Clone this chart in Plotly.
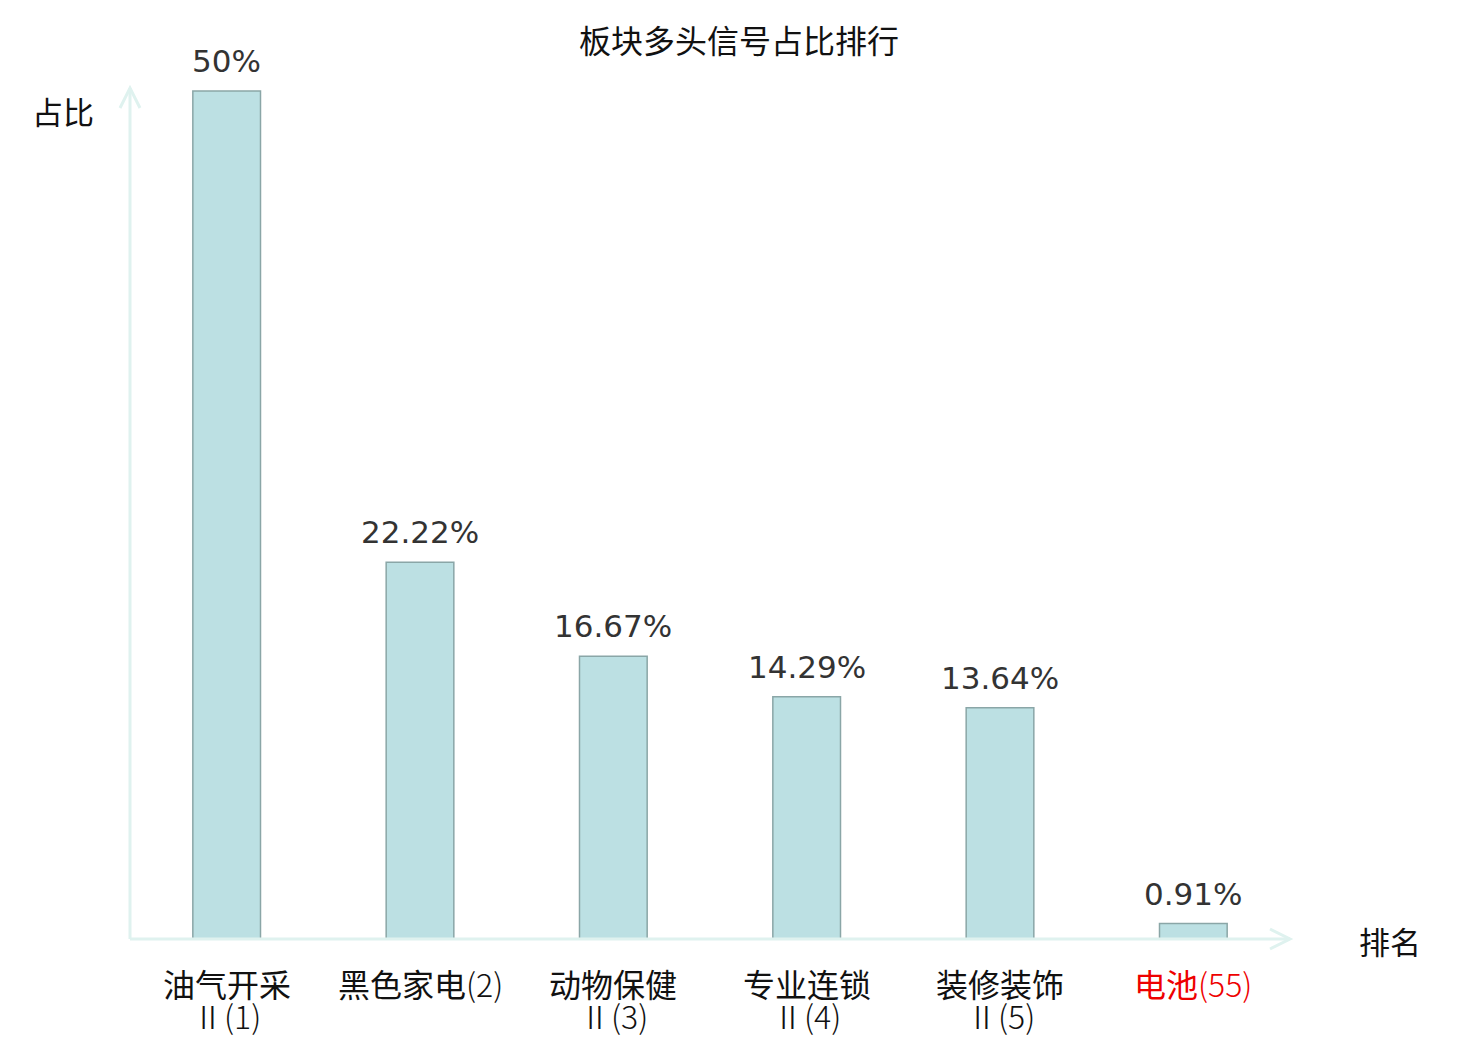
import plotly.graph_objects as go

# data
sectors = ["油气开采Ⅱ(1)", "黑色家电(2)", "动物保健Ⅱ(3)", "专业连锁Ⅱ(4)", "装修装饰Ⅱ(5)", "电池(55)"]
names = ["油气开采", "黑色家电", "动物保健", "专业连锁", "装修装饰", "电池"]
ranks = ["Ⅱ(1)", "(2)", "Ⅱ(3)", "Ⅱ(4)", "Ⅱ(5)", "(55)"]
shares = [50, 22.22, 16.67, 14.29, 13.64, 0.91]
value_labels = ["50%", "22.22%", "16.67%", "14.29%", "13.64%", "0.91%"]
highlight = "电池(55)"

W, H = 1480, 1040
OFF = 8  # page body margin
L, R, T, B = 130 - OFF, 190 + OFF, 88 - OFF, 101 + OFF
pw, ph = W - L - R, H - T - B
axis_col = "#dff2ef"
cjk = "Noto Sans CJK SC"
light = "<span style='font-weight:300'>{}</span>"

fig = go.Figure(go.Bar(x=sectors, y=shares, width=0.35,
                       marker=dict(color="#bce0e3", line=dict(color="#8aa6a7", width=1.5)),
                       hoverinfo="skip"))

# value labels above the bars
for s, v, lab in zip(sectors, shares, value_labels):
    fig.add_annotation(x=s, y=v, text=lab, showarrow=False, yanchor="bottom", yshift=10,
                       font=dict(family="DejaVu Sans", size=31, color="#333333"))

# category labels under the axis (drawn by hand for the tight line spacing)
for s, n, r in zip(sectors, names, ranks):
    col = "#ee0000" if s == highlight else "#111111"
    if r.startswith("Ⅱ"):
        first, second = n, light.format(r)
    else:
        first, second = n + light.format(r), None
    fig.add_annotation(x=s, yref="paper", y=0, yshift=-44, yanchor="middle", text=first,
                       showarrow=False, font=dict(family=cjk, size=32, color=col))
    if second:
        fig.add_annotation(x=s, yref="paper", y=0, yshift=-76, yanchor="middle", text=second,
                           showarrow=False, font=dict(family=cjk, size=32, color=col))

# axis lines with arrow heads (drawn in paper coords)
dx, dy = 20 / pw, 20 / ph
line = dict(color=axis_col, width=3)
fig.add_shape(type="line", xref="paper", yref="paper", x0=0, y0=0, x1=1, y1=0, line=line)
fig.add_shape(type="line", xref="paper", yref="paper", x0=0, y0=0, x1=0, y1=1, line=line)
fig.add_shape(type="path", xref="paper", yref="paper", line=line,
              path=f"M {1-dx} {10/ph} L 1 0 L {1-dx} {-10/ph}")
fig.add_shape(type="path", xref="paper", yref="paper", line=line,
              path=f"M {-10/pw} {1-dy} L 0 1 L {10/pw} {1-dy}")

# axis names
fig.add_annotation(xref="paper", yref="paper", x=(63 - 130) / pw, y=(939 - 110) / ph,
                   xanchor="center", yanchor="middle",
                   text="占比", showarrow=False, font=dict(family=cjk, size=31, color="#111"))
fig.add_annotation(xref="paper", yref="paper", x=(1390 - 130) / pw, y=(939 - 940) / ph,
                   xanchor="center", yanchor="middle",
                   text="排名", showarrow=False, font=dict(family=cjk, size=31, color="#111"))

fig.update_layout(
    width=W, height=H, margin=dict(l=L, r=R, t=T, b=B),
    paper_bgcolor="white", plot_bgcolor="white", showlegend=False,
    title=dict(text="板块多头信号占比排行", x=(739 - OFF) / W, xanchor="center",
               y=1 - (42 - OFF) / H, yanchor="middle",
               font=dict(family=cjk, size=32, color="#111")),
)
fig.update_xaxes(showticklabels=False, showline=False, showgrid=False, zeroline=False, ticks="")
fig.update_yaxes(range=[0, 50.18], visible=False)

fig.write_html("out.html")
